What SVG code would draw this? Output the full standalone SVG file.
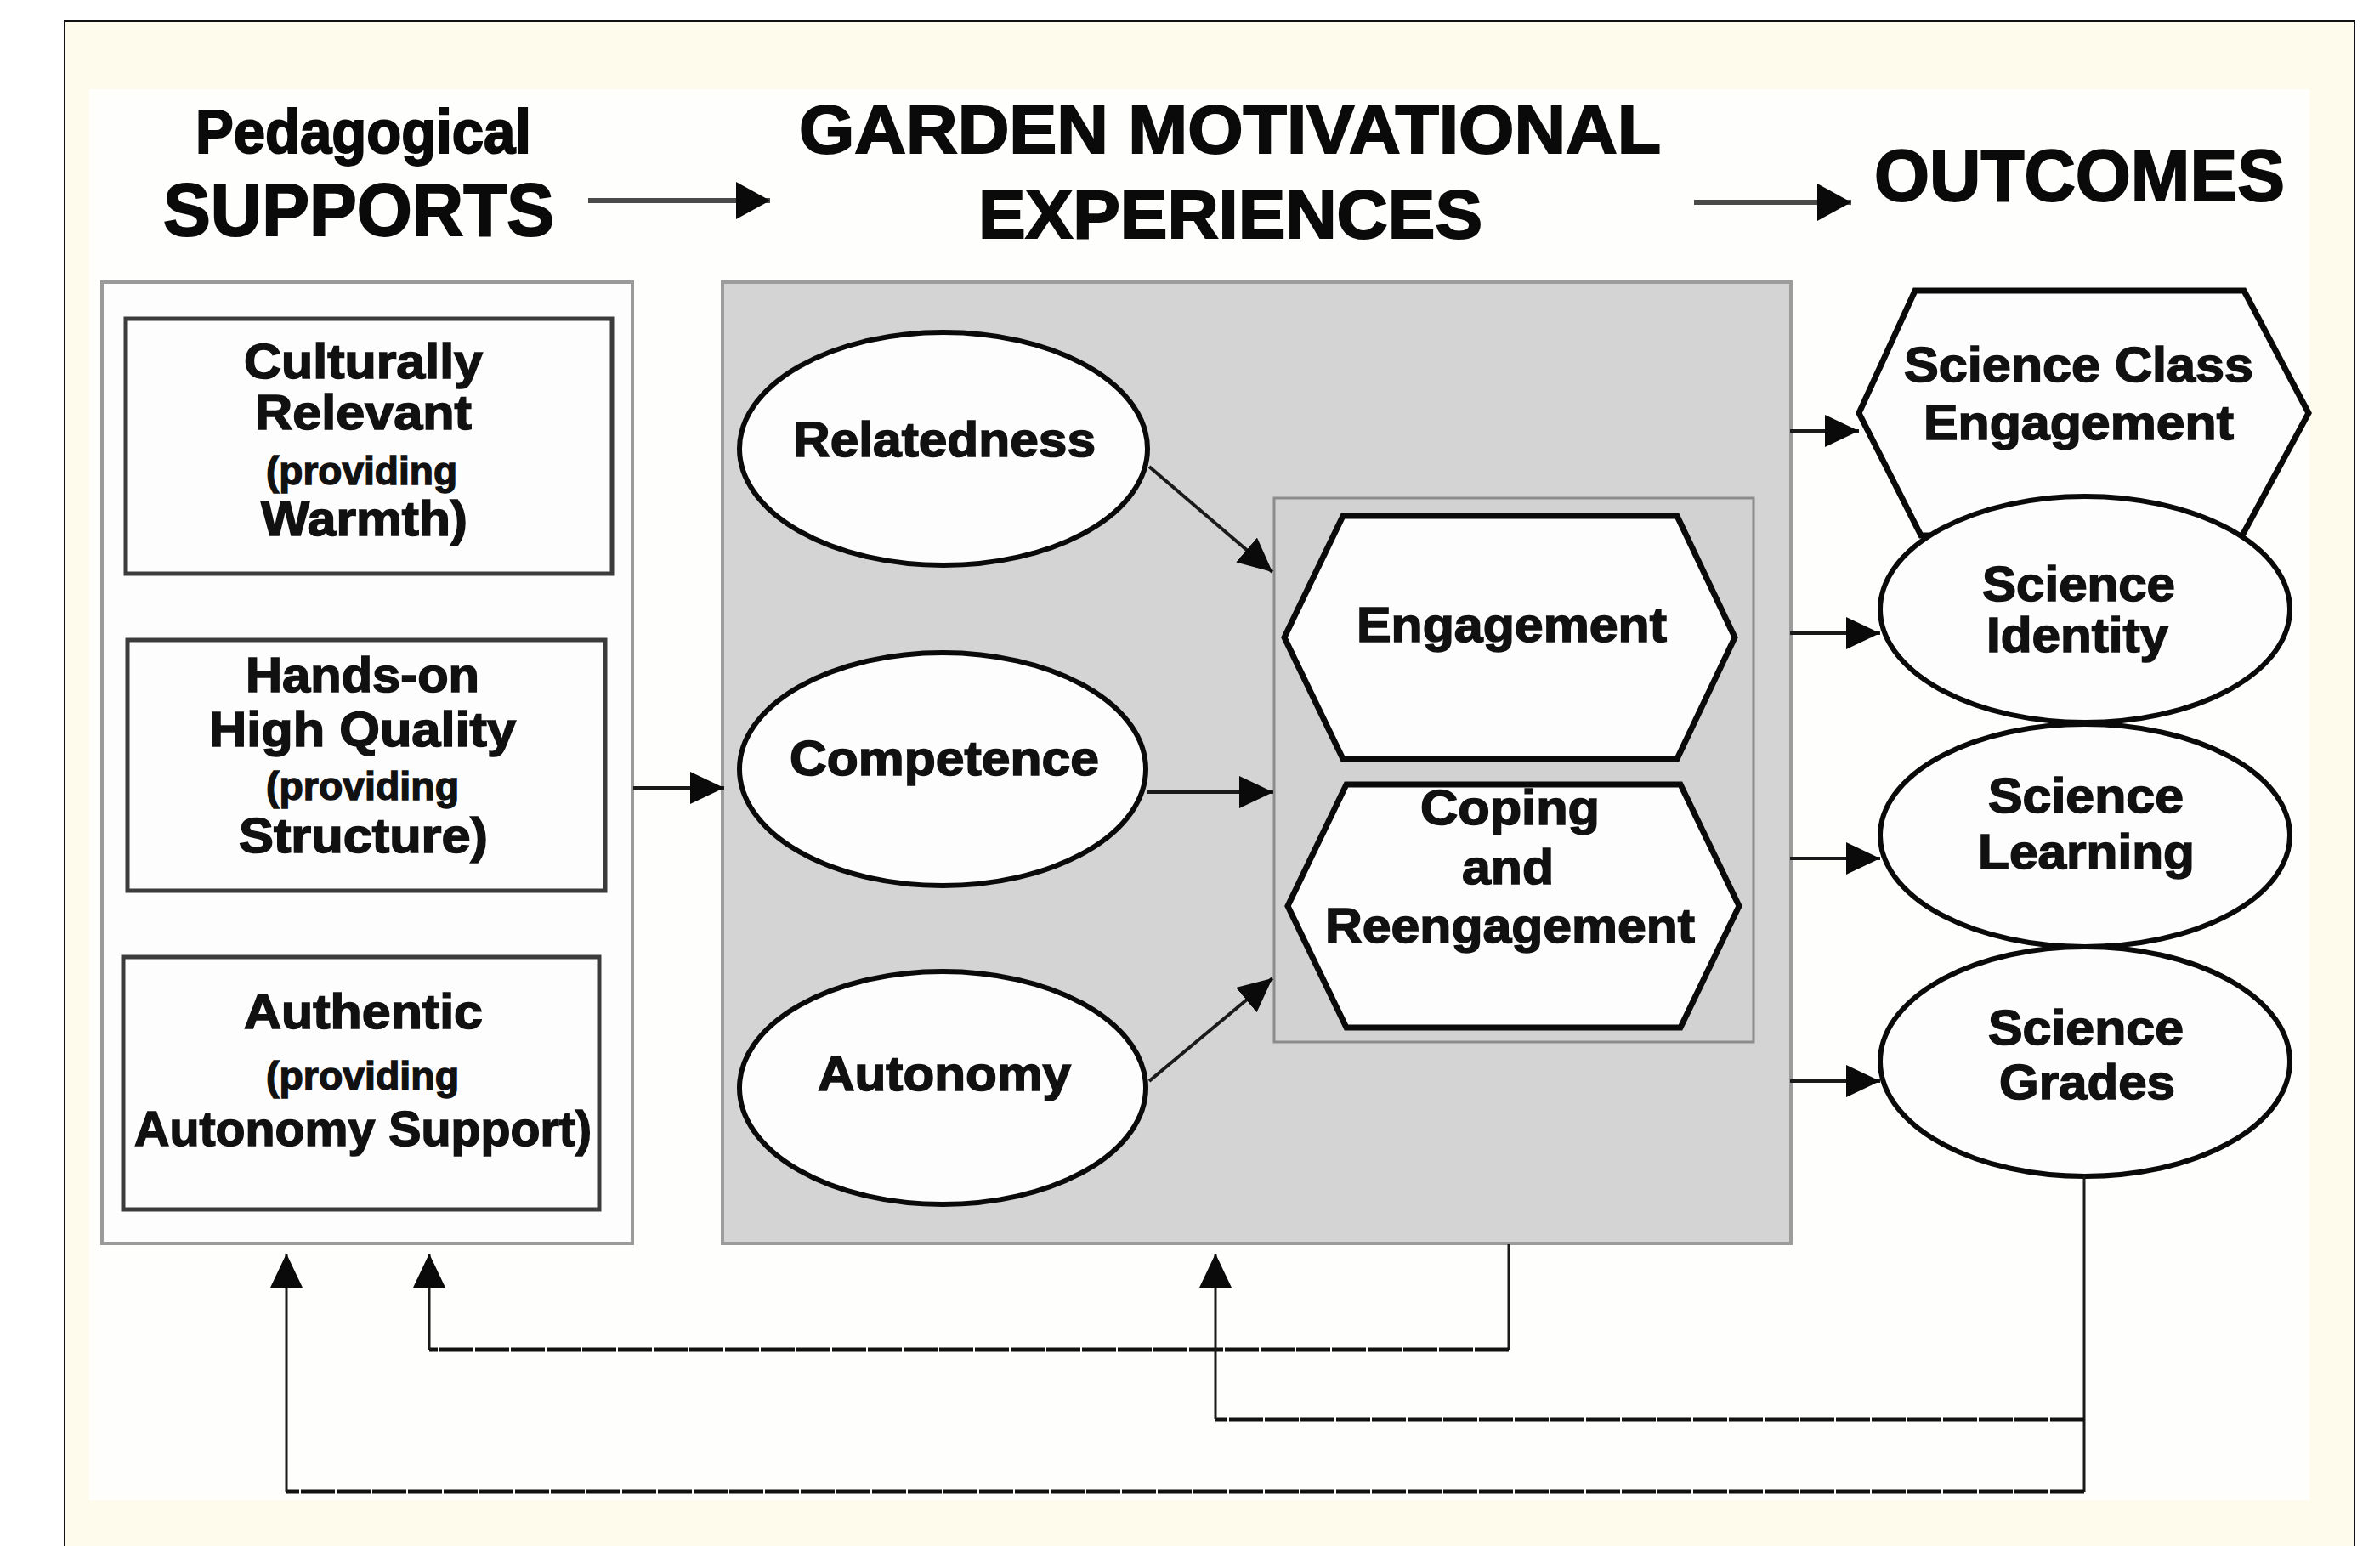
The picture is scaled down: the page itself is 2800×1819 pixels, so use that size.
<svg xmlns="http://www.w3.org/2000/svg" width="2800" height="1819" viewBox="0 0 2800 1819">
  <style>
    .hd { font-family: "Liberation Sans", Arial, sans-serif; font-weight: bold; fill: #0a0a0a; stroke: #0a0a0a; stroke-width: 2; }
    .tx { font-family: "Liberation Sans", Arial, sans-serif; font-weight: bold; font-size: 58px; fill: #111; stroke: #111; stroke-width: 1.6; }
    .sm { font-family: "Liberation Sans", Arial, sans-serif; font-weight: bold; font-size: 46px; fill: #111; stroke: #111; stroke-width: 1.4; }
    .panel { fill: #fdfdfd; stroke: #9a9a9a; stroke-width: 4; }
    .gpanel { fill: #d4d4d4; stroke: #9c9c9c; stroke-width: 4; }
    .sbox { fill: #fdfdfd; stroke: #3c3c3c; stroke-width: 5; }
    .ell { fill: #fdfdfd; stroke: #0a0a0a; stroke-width: 6; }
    .hex { fill: #fdfdfd; stroke: #0a0a0a; stroke-width: 7; stroke-linejoin: miter; }
    .ln { fill: none; stroke: #1a1a1a; stroke-width: 4; }
    .hdln { fill: none; stroke: #4a4a4a; stroke-width: 6; }
    .fb { fill: none; stroke: #1a1a1a; stroke-width: 3; }
    .fbh { fill: none; stroke: #111; stroke-width: 5; stroke-dasharray: 40 2; }
  </style>
  <defs>
    <marker id="arr" markerUnits="userSpaceOnUse" viewBox="0 0 40 38" refX="40" refY="19" markerWidth="40" markerHeight="38" orient="auto">
      <path d="M0,0 L40,19 L0,38 Z" fill="#0a0a0a"/>
    </marker>
    <marker id="arrBig" markerUnits="userSpaceOnUse" viewBox="0 0 40 44" refX="40" refY="22" markerWidth="40" markerHeight="44" orient="auto">
      <path d="M0,0 L40,22 L0,44 Z" fill="#0a0a0a"/>
    </marker>
  </defs>

  <!-- page and frame -->
  <rect x="0" y="0" width="2800" height="1819" fill="#ffffff"/>
  <rect x="76" y="25" width="2694" height="1800" fill="#fffbec" stroke="#111" stroke-width="2"/>
  <rect x="105" y="105" width="2612" height="1660" fill="#fefefc"/>

  <!-- column headings -->
  <g id="headings">
    <text class="hd" x="230" y="180" font-size="72" textLength="395" lengthAdjust="spacingAndGlyphs">Pedagogical</text>
    <text class="hd" x="192" y="277" font-size="88" textLength="460" lengthAdjust="spacingAndGlyphs">SUPPORTS</text>
    <text class="hd" x="940" y="180" font-size="80" textLength="1014" lengthAdjust="spacingAndGlyphs">GARDEN MOTIVATIONAL</text>
    <text class="hd" x="1151" y="280" font-size="80" textLength="593" lengthAdjust="spacingAndGlyphs">EXPERIENCES</text>
    <text class="hd" x="2205" y="236" font-size="86" textLength="483" lengthAdjust="spacingAndGlyphs">OUTCOMES</text>
  </g>

  <!-- left panel: pedagogical supports -->
  <g id="supports">
    <rect class="panel" x="120" y="332" width="624" height="1131"/>
    <g id="culturally-relevant">
      <rect class="sbox" x="148" y="375" width="572" height="300"/>
      <text class="tx" x="287" y="445" textLength="281" lengthAdjust="spacingAndGlyphs">Culturally</text>
      <text class="tx" x="300" y="505" textLength="255" lengthAdjust="spacingAndGlyphs">Relevant</text>
      <text class="sm" x="313" y="570" textLength="225" lengthAdjust="spacingAndGlyphs">(providing</text>
      <text class="tx" x="307" y="630" textLength="243" lengthAdjust="spacingAndGlyphs">Warmth)</text>
    </g>
    <g id="hands-on">
      <rect class="sbox" x="150" y="753" width="562" height="295"/>
      <text class="tx" x="289" y="814" textLength="275" lengthAdjust="spacingAndGlyphs">Hands-on</text>
      <text class="tx" x="246" y="878" textLength="361" lengthAdjust="spacingAndGlyphs">High Quality</text>
      <text class="sm" x="313" y="941" textLength="227" lengthAdjust="spacingAndGlyphs">(providing</text>
      <text class="tx" x="281" y="1003" textLength="293" lengthAdjust="spacingAndGlyphs">Structure)</text>
    </g>
    <g id="authentic">
      <rect class="sbox" x="145" y="1126" width="560" height="297"/>
      <text class="tx" x="287" y="1210" textLength="281" lengthAdjust="spacingAndGlyphs">Authentic</text>
      <text class="sm" x="313" y="1282" textLength="227" lengthAdjust="spacingAndGlyphs">(providing</text>
      <text class="tx" x="158" y="1348" textLength="538" lengthAdjust="spacingAndGlyphs">Autonomy Support)</text>
    </g>
  </g>

  <!-- middle panel: garden motivational experiences -->
  <g id="experiences">
    <rect class="gpanel" x="850" y="332" width="1257" height="1131"/>
    <g id="relatedness">
      <ellipse class="ell" cx="1110" cy="528" rx="240" ry="137"/>
      <text class="tx" x="933" y="537" textLength="356" lengthAdjust="spacingAndGlyphs">Relatedness</text>
    </g>
    <g id="competence">
      <ellipse class="ell" cx="1109" cy="905" rx="239" ry="137"/>
      <text class="tx" x="929" y="912" textLength="364" lengthAdjust="spacingAndGlyphs">Competence</text>
    </g>
    <g id="autonomy">
      <ellipse class="ell" cx="1109" cy="1280" rx="239" ry="137"/>
      <text class="tx" x="962" y="1283" textLength="298" lengthAdjust="spacingAndGlyphs">Autonomy</text>
    </g>
    <g id="engagement-group">
      <rect x="1499" y="586" width="564" height="640" fill="#d2d2d2" stroke="#8c8c8c" stroke-width="3"/>
      <g id="engagement">
        <polygon class="hex" points="1511,750 1580,607 1973,607 2041,750 1973,893 1580,893"/>
        <text class="tx" x="1596" y="755" textLength="365" lengthAdjust="spacingAndGlyphs">Engagement</text>
      </g>
      <g id="coping">
        <polygon class="hex" points="1515,1066 1584,923 1977,923 2046,1066 1977,1209 1584,1209"/>
        <text class="tx" x="1671" y="970" textLength="211" lengthAdjust="spacingAndGlyphs">Coping</text>
        <text class="tx" x="1720" y="1040" textLength="108" lengthAdjust="spacingAndGlyphs">and</text>
        <text class="tx" x="1559" y="1109" textLength="435" lengthAdjust="spacingAndGlyphs">Reengagement</text>
      </g>
    </g>
  </g>

  <!-- right column: outcomes -->
  <g id="outcomes">
    <g id="class-engagement">
      <polygon class="hex" points="2187,486 2253,342 2640,342 2716,486 2638,630 2260,630"/>
      <text class="tx" x="2240" y="449" textLength="411" lengthAdjust="spacingAndGlyphs">Science Class</text>
      <text class="tx" x="2263" y="517" textLength="365" lengthAdjust="spacingAndGlyphs">Engagement</text>
    </g>
    <g id="identity">
      <ellipse class="ell" cx="2453" cy="717" rx="241" ry="133"/>
      <text class="tx" x="2332" y="707" textLength="227" lengthAdjust="spacingAndGlyphs">Science</text>
      <text class="tx" x="2337" y="767" textLength="214" lengthAdjust="spacingAndGlyphs">Identity</text>
    </g>
    <g id="learning">
      <ellipse class="ell" cx="2453" cy="983" rx="241" ry="131"/>
      <text class="tx" x="2339" y="956" textLength="230" lengthAdjust="spacingAndGlyphs">Science</text>
      <text class="tx" x="2327" y="1022" textLength="255" lengthAdjust="spacingAndGlyphs">Learning</text>
    </g>
    <g id="grades">
      <ellipse class="ell" cx="2453" cy="1249" rx="241" ry="135"/>
      <text class="tx" x="2339" y="1229" textLength="230" lengthAdjust="spacingAndGlyphs">Science</text>
      <text class="tx" x="2352" y="1293" textLength="207" lengthAdjust="spacingAndGlyphs">Grades</text>
    </g>
  </g>

  <!-- connectors -->
  <g id="connectors">
    <!-- heading arrows -->
    <line class="hdln" x1="692" y1="236" x2="906" y2="236" marker-end="url(#arrBig)"/>
    <line class="hdln" x1="1993" y1="238" x2="2178" y2="238" marker-end="url(#arrBig)"/>
    <!-- supports to experiences -->
    <line class="ln" x1="745" y1="927" x2="852" y2="927" marker-end="url(#arr)"/>
    <!-- needs to engagement -->
    <line class="ln" x1="1352" y1="549" x2="1497" y2="673" marker-end="url(#arr)"/>
    <line class="ln" x1="1350" y1="932" x2="1498" y2="932" marker-end="url(#arr)"/>
    <line class="ln" x1="1352" y1="1272" x2="1497" y2="1151" marker-end="url(#arr)"/>
    <!-- experiences to outcomes -->
    <line class="ln" x1="2106" y1="507" x2="2187" y2="507" marker-end="url(#arr)"/>
    <line class="ln" x1="2106" y1="745" x2="2212" y2="745" marker-end="url(#arr)"/>
    <line class="ln" x1="2106" y1="1010" x2="2212" y2="1010" marker-end="url(#arr)"/>
    <line class="ln" x1="2106" y1="1272" x2="2212" y2="1272" marker-end="url(#arr)"/>
    <!-- feedback loops -->
    <polyline class="fb" points="1775,1464 1775,1588"/>
    <line class="fbh" x1="1775" y1="1588" x2="505" y2="1588"/>
    <line class="fb" x1="505" y1="1588" x2="505" y2="1475" marker-end="url(#arr)"/>
    <polyline class="fb" points="2452,1384 2452,1755"/>
    <line class="fbh" x1="2452" y1="1670" x2="1430" y2="1670"/>
    <line class="fb" x1="1430" y1="1670" x2="1430" y2="1475" marker-end="url(#arr)"/>
    <line class="fbh" x1="2452" y1="1755" x2="337" y2="1755"/>
    <line class="fb" x1="337" y1="1755" x2="337" y2="1475" marker-end="url(#arr)"/>
  </g>
</svg>
